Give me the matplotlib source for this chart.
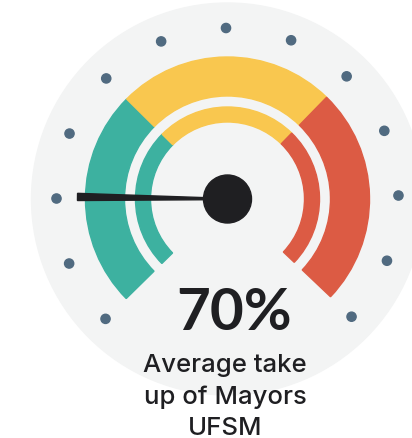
import numpy as np
import matplotlib
matplotlib.use("Agg")
import matplotlib.pyplot as plt
from matplotlib.patches import Wedge, Circle, Polygon

# ---- data ----
segments = ["Low", "Medium", "High"]
segment_bounds = [0, 33.3, 66.7, 100]          # gauge scale 0..100
segment_colors = ["#3db1a0", "#f9c74f", "#dc5b44"]
needle_value = [16.9]                          # needle position on 0..100 scale
tick_values = list(np.linspace(0, 100, 13))   # dot markers
headline = "70%"
caption = ["Average take", "up of Mayors", "UFSM"]

# ---- geometry (pixels) ----
W, H = 412, 439
cx, cy = 227.5, H - 200
start_ang, end_ang = 224.5, -43.5

def v2a(v):
    return start_ang + (end_ang - start_ang) * v / 100.0

fig = plt.figure(figsize=(W / 100, H / 100), dpi=100)
ax = fig.add_axes([0, 0, 1, 1])
ax.set_xlim(0, W)
ax.set_ylim(0, H)
ax.set_aspect("equal")
ax.axis("off")

ax.add_patch(Circle((cx, cy), 196, color="#f3f4f4", zorder=0))

for i, c in enumerate(segment_colors):
    a1, a2 = v2a(segment_bounds[i]), v2a(segment_bounds[i + 1])
    ax.add_patch(Wedge((cx, cy), 142, a2, a1, width=39, color=c, zorder=1))
    ax.add_patch(Wedge((cx, cy), 92, a2, a1, width=15, color=c, zorder=1))

for v in tick_values:
    a = np.radians(v2a(v))
    ax.add_patch(Circle((cx + 171 * np.cos(a), cy + 171 * np.sin(a)), 4.6,
                        color="#506a80", zorder=2))

# needle
a = np.radians(v2a(needle_value[0]))
ux, uy = np.cos(a), np.sin(a)
px, py = -uy, ux
L_tip, L_base = 150, 20
wt, wb = 3.6, 1.0
pts = [(cx + L_tip * ux + wt * px, cy + L_tip * uy + wt * py),
       (cx + L_tip * ux - wt * px, cy + L_tip * uy - wt * py),
       (cx + L_base * ux - wb * px, cy + L_base * uy - wb * py),
       (cx + L_base * ux + wb * px, cy + L_base * uy + wb * py)]
ax.add_patch(Polygon(pts, closed=True, color="#1f1f22", zorder=3))
ax.add_patch(Circle((cx, cy), 24, color="#1f1f22", zorder=4))

ax.text(234, H - 314, headline, ha="center", va="center", fontsize=42,
        fontweight="bold", family="Lato", color="#1f1f22", zorder=5)
for i, line in enumerate(caption):
    ax.text(225, H - (372.5 + 31.5 * i), line, ha="center", va="baseline",
            fontsize=18.5, fontweight="medium", family="Inter",
            color="#1f1f22", zorder=5)

fig.savefig("out.png", dpi=100, facecolor="white")
